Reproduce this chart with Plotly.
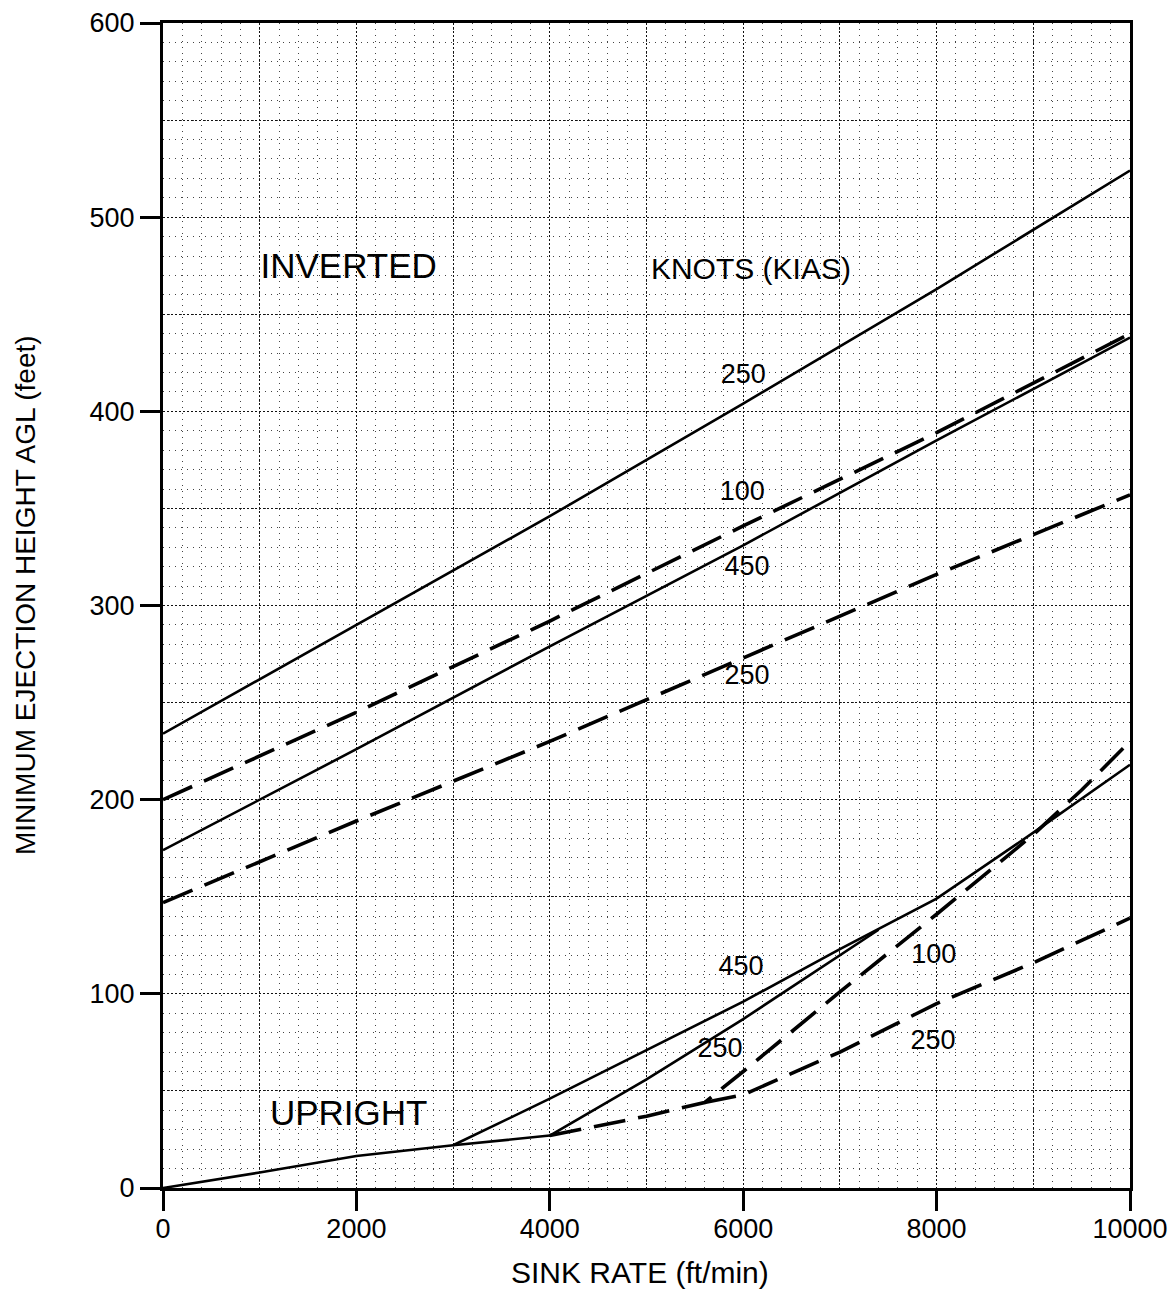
import plotly.graph_objects as go

# sink rate (ft/min) sample points for the inverted curves
sink = [0, 2000, 4000, 6000, 8000, 10000]
inv_250_solid = [234, 290, 346, 404, 463, 524]
inv_100_dash = [200, 245, 292, 341, 389, 440]
inv_450_solid = [174, 226, 279, 331, 385, 438]
inv_250_dash = [147, 189, 230, 273, 316, 357]

# upright curves
up_base_x = [0, 1000, 2000, 3000, 4000]
up_base_y = [0, 8, 16.5, 22, 27]
up_450_x = [3000, 4000, 5000, 6000, 7000, 8000, 9000, 10000]
up_450_y = [22, 46, 71, 96, 123, 149, 183, 218]
up_250_solid_x = [4000, 5000, 6000, 7000, 7400]
up_250_solid_y = [27, 56, 87, 120, 133]
up_100_dash_x = [4000, 5000, 5600, 6000, 7000, 8000, 9000, 9500, 10000]
up_100_dash_y = [27, 37, 44, 60, 101, 141, 182, 205, 230]
up_250_dash_x = [5600, 6000, 7000, 8000, 9000, 10000]
up_250_dash_y = [44, 48, 70, 95, 116, 139]

# text labels inside the plot
label_text = ["INVERTED", "KNOTS (KIAS)", "250", "100", "450", "250",
              "450", "250", "100", "250", "UPRIGHT"]
label_x = [1920, 6080, 6000, 5990, 6040, 6040, 5977, 5760, 7970, 7963, 1920]
label_y = [473, 472, 418, 358, 319, 263, 113, 71, 119.5, 75, 37]
label_size = [35, 30, 27, 27, 27, 27, 27, 27, 27, 27, 35]

FONT = "Liberation Sans, Arial, sans-serif"
SOLID = dict(color="black", width=2.6)
DASHED = dict(color="black", width=3.6, dash="32px,13px")

fig = go.Figure()


def add_line(x, y, line):
    fig.add_trace(go.Scatter(x=x, y=y, mode="lines", line=line,
                             showlegend=False, hoverinfo="skip"))


add_line(sink, inv_250_solid, SOLID)
add_line(sink, inv_100_dash, DASHED)
add_line(sink, inv_450_solid, SOLID)
add_line(sink, inv_250_dash, DASHED)

add_line(up_base_x, up_base_y, SOLID)
add_line(up_450_x, up_450_y, SOLID)
add_line(up_250_solid_x, up_250_solid_y, SOLID)
add_line(up_100_dash_x, up_100_dash_y, DASHED)
add_line(up_250_dash_x, up_250_dash_y, DASHED)

# labels go on the overlay axes (same ranges) which also carry the heavy grid
fig.add_trace(go.Scatter(
    x=label_x, y=label_y, text=label_text, mode="text",
    textfont=dict(family=FONT, size=label_size, color="black"),
    xaxis="x2", yaxis="y2", showlegend=False, hoverinfo="skip"))

light_grid = dict(showgrid=True, gridcolor="#444", griddash="1px,5px", gridwidth=1, ticks="")
heavy_grid = dict(showgrid=True, gridcolor="#111", griddash="2px,2px", gridwidth=1.4,
                  showticklabels=False, ticks="", zeroline=False, showline=False)

fig.update_layout(
    width=1171, height=1289,
    margin=dict(l=163, r=41, t=23, b=101),
    paper_bgcolor="white", plot_bgcolor="white",
    font=dict(family=FONT, color="black"),
    xaxis=dict(range=[0, 10000], tick0=0, dtick=2000, tickformat="d",
               ticks="outside", ticklen=20, tickwidth=3, tickcolor="black",
               showline=True, linewidth=3, linecolor="black", mirror=True,
               showgrid=False, zeroline=False, automargin=False,
               ticklabeloverflow="allow",
               tickfont=dict(size=27, color="black"), ticklabelstandoff=-5,
               minor=dict(dtick=200, **light_grid)),
    yaxis=dict(range=[0, 600], tick0=0, dtick=100, ticks="outside", ticklen=20,
               tickwidth=3, tickcolor="black", showline=True, linewidth=3,
               linecolor="black", mirror=True, showgrid=False, zeroline=False,
               automargin=False, ticklabeloverflow="allow",
               tickfont=dict(size=27, color="black"), ticklabelstandoff=0,
               minor=dict(dtick=10, **light_grid)),
    xaxis2=dict(overlaying="x", anchor="y2", range=[0, 10000], tick0=0, dtick=1000,
                **heavy_grid),
    yaxis2=dict(overlaying="y", anchor="x2", range=[0, 600], tick0=0, dtick=50,
                **heavy_grid),
)

fig.add_annotation(text="SINK RATE (ft/min)", xref="paper", yref="paper",
                   x=0.493, y=-84 / 1165, xanchor="center", yanchor="middle",
                   showarrow=False, font=dict(size=30, family=FONT, color="black"))
fig.add_annotation(text="MINIMUM EJECTION HEIGHT AGL (feet)", xref="paper", yref="paper",
                   x=-138 / 967, y=0.509, xanchor="center", yanchor="middle", textangle=-90,
                   showarrow=False, font=dict(size=28, family=FONT, color="black"))

# drop the default 8px page margin so the figure fills the window
fig.write_html("out.html", config={"displayModeBar": False},
               post_script="document.body.style.margin = '0';")
